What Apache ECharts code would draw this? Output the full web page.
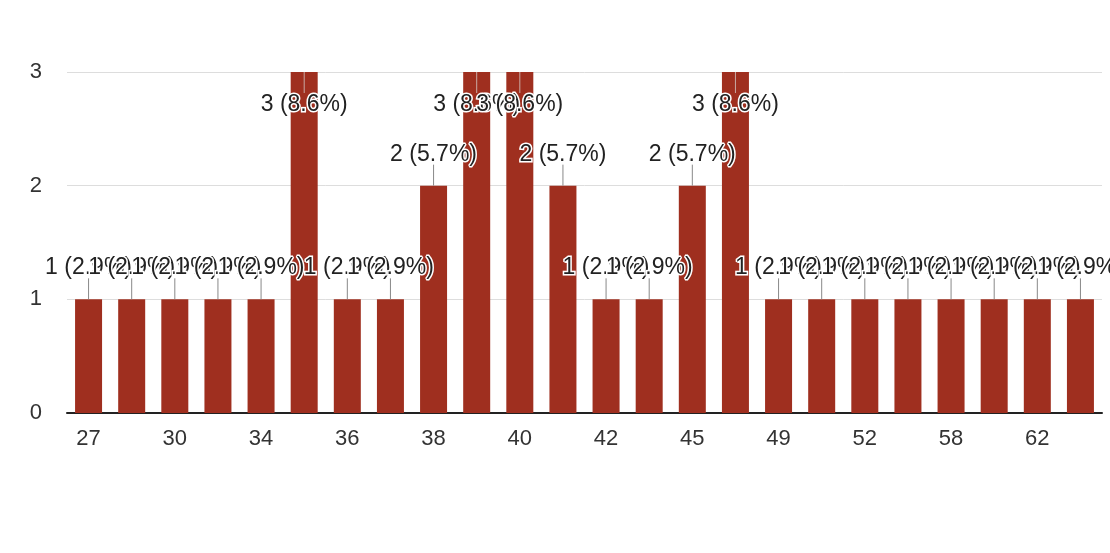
<!DOCTYPE html>
<html>
<head>
<meta charset="utf-8">
<script src="https://cdn.jsdelivr.net/npm/echarts@6/dist/echarts.min.js"></script>
<style>
html,body{margin:0;padding:0;background:#fff;}
#chart{width:1110px;height:553px;}
</style>
</head>
<body>
<div id="chart"></div>
<script>
// Ages (every other category label is visible in the reference; hidden ones are estimates)
const categories = ['27','29','30','32','34','35','36','37','38','39','40','41','42','44','45','47','49','50','52','55','58','60','62','65'];
const counts = [1,1,1,1,1,3,1,1,2,3,3,2,1,1,2,3,1,1,1,1,1,1,1,1];
const yTicks = [0,1,2,3];

const total = counts.reduce((a,b)=>a+b,0);
const yMax = yTicks[yTicks.length-1];
const FONT = '"Liberation Sans", Arial, sans-serif';
const barColor = '#9f2f1f';

const barData = counts.map(v => {
  const atTop = v >= yMax;
  return {
    value: v,
    label: atTop ? {position: 'insideTop', distance: 21} : {position: 'top', distance: 20}
  };
});

const chart = echarts.init(document.getElementById('chart'), null, {renderer: 'canvas'});
chart.setOption({
  backgroundColor: '#ffffff',
  animation: false,
  grid: {left: 67, right: 8, top: 72, bottom: 140, containLabel: false},
  xAxis: {
    type: 'category',
    data: categories,
    axisLine: {show: true, lineStyle: {color: '#222', width: 2}},
    axisTick: {show: false},
    axisLabel: {interval: 1, color: '#333', fontSize: 22, fontFamily: FONT, margin: 15},
    splitLine: {show: false}
  },
  yAxis: {
    type: 'value',
    min: yTicks[0], max: yMax, interval: 1,
    axisLine: {show: false},
    axisTick: {show: false},
    axisLabel: {color: '#333', fontSize: 22, fontFamily: FONT, margin: 25},
    splitLine: {show: true, lineStyle: {color: '#dddddd', width: 1}}
  },
  series: [
    {
      type: 'bar',
      data: barData,
      barWidth: 27,
      itemStyle: {color: barColor},
      z: 2,
      label: {
        show: true,
        fontSize: 23,
        fontFamily: FONT,
        color: '#222',
        textBorderColor: '#fff',
        textBorderWidth: 3,
        formatter: p => p.value + ' (' + (p.value / total * 100).toFixed(1) + '%)'
      }
    },
    {
      type: 'custom',
      z: 3,
      silent: true,
      data: counts.map((v, i) => [i, v]),
      encode: {x: 0, y: 1},
      renderItem: function (params, api) {
        const v = api.value(1);
        const p = api.coord([api.value(0), v]);
        const dir = v >= yMax ? 1 : -1;
        return {
          type: 'line',
          shape: {x1: p[0], y1: p[1], x2: p[0], y2: p[1] + dir * 21},
          style: {stroke: v >= yMax ? '#c9a9a3' : '#888', lineWidth: 1}
        };
      }
    }
  ]
});
</script>
</body>
</html>
